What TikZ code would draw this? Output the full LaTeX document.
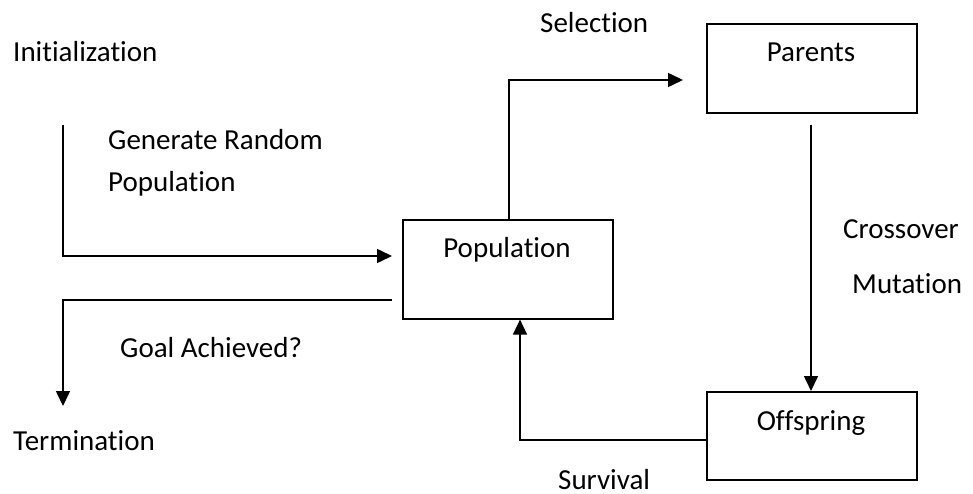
\documentclass[tikz,border=0pt]{standalone}
\usepackage{fontspec}
\setmainfont[Ligatures=NoCommon]{Carlito}
\usetikzlibrary{arrows.meta}
\begin{document}
\begin{tikzpicture}[x=1pt,y=-1pt,
  box/.style={draw,line width=1.6pt,minimum width=210pt,minimum height=89pt,inner sep=0pt,anchor=north west},
  lbl/.style={anchor=base west,inner sep=0pt,font=\fontsize{29}{34}\selectfont},
  clbl/.style={anchor=base,inner sep=0pt,font=\fontsize{29}{34}\selectfont},
  conn/.style={line width=1.6pt},
  arr/.style={conn,-{Triangle[length=15pt,width=14pt]}}]
\useasboundingbox (0,0) rectangle (973,494);
% boxes
\node[box,minimum height=99pt] (pop) at (402,219) {};
\node[box] (par) at (706,23) {};
\node[box,minimum height=88pt] (off) at (706,391) {};
% box texts
\node[clbl] (poptxt) at (507,257) {Population};
\node[clbl] (partxt) at (811,62) {Parents};
\node[clbl] (offtxt) at (811,430) {Offspring};
% labels
\node[lbl] (init) at (13,62) {Initialization};
\node[lbl] (gen1) at (108,150) {Generate Random};
\node[lbl] (gen2) at (108,192) {Population};
\node[lbl] (sel) at (540,33) {Selection};
\node[lbl] (cross) at (843,238) {Crossover};
\node[lbl] (mut) at (852,293) {Mutation};
\node[lbl] (goal) at (120,357) {Goal Achieved?};
\node[lbl] (term) at (13,450) {Termination};
\node[lbl] (surv) at (558,489) {Survival};
% coordinates
\coordinate (initstart) at (63,125);
\coordinate (initend) at (392,256);
\coordinate (termstart) at (392,300);
\coordinate (termend) at (63,406);
\coordinate (selend) at (683,80);
\coordinate (parstart) at (811,125);
% connectors
\draw[arr] (initstart) |- (initend);
\draw[arr] (termstart) -| (termend);
\draw[arr] (pop.north -| 509,0) |- (selend);
\draw[arr] (parstart) -- (parstart |- off.north);
\draw[arr] (off.west |- 0,440) -| (pop.south -| 520,0);
\end{tikzpicture}
\end{document}
